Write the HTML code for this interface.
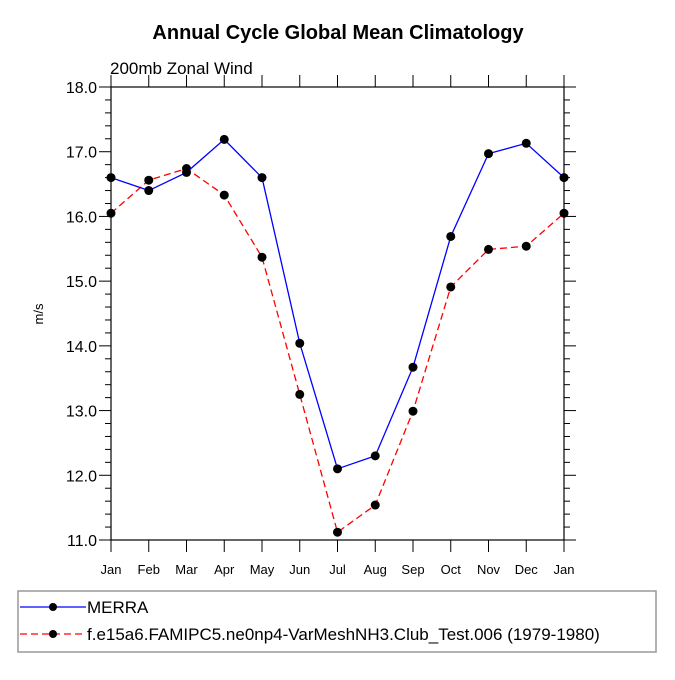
<!DOCTYPE html>
<html><head><meta charset="utf-8"><style>
body{margin:0;background:#fff}
svg{font-family:"Liberation Sans",sans-serif}
</style></head><body>
<svg width="675" height="675" viewBox="0 0 675 675">
<text x="338" y="39" text-anchor="middle" font-size="20" font-weight="bold">Annual Cycle Global Mean Climatology</text>
<text x="110" y="74" font-size="17">200mb Zonal Wind</text>
<text transform="translate(43,314) rotate(-90)" text-anchor="middle" font-size="13">m/s</text>
<g id="axes"></g>
<g id="series"></g>
<rect x="18" y="591" width="638" height="61" fill="none" stroke="#999" stroke-width="1.5"/>
<g>
<line x1="20" y1="607" x2="86" y2="607" stroke="#00f" stroke-width="1.2"/>
<circle cx="53" cy="607" r="4" fill="#000"/>
<text x="87" y="613" font-size="17">MERRA</text></g>
<g>
<line x1="20" y1="634" x2="86" y2="634" stroke="#f00" stroke-width="1.2" stroke-dasharray="7,4"/>
<circle cx="53" cy="634" r="4" fill="#000"/>
<text x="87" y="640" font-size="17">f.e15a6.FAMIPC5.ne0np4-VarMeshNH3.Club_Test.006 (1979-1980)</text></g>
</svg>
<script>
const months=["Jan","Feb","Mar","Apr","May","Jun","Jul","Aug","Sep","Oct","Nov","Dec","Jan"];
const merra=[16.6,16.4,16.68,17.19,16.6,14.04,12.1,12.3,13.67,15.69,16.97,17.13,16.6];
const model=[16.05,16.56,16.74,16.33,15.37,13.25,11.12,11.54,12.99,14.91,15.49,15.54,16.05];
const yTicks=["11.0","12.0","13.0","14.0","15.0","16.0","17.0","18.0"];
const X0=111,X1=564,Y0=540,Y1=87,YMIN=11,YMAX=18;
const xs=i=>X0+(X1-X0)*i/(months.length-1);
const ys=v=>Y0-(v-YMIN)/(YMAX-YMIN)*(Y0-Y1);
const NS="http://www.w3.org/2000/svg";
function mk(t,a,p){const e=document.createElementNS(NS,t);for(const k in a)e.setAttribute(k,a[k]);p.appendChild(e);return e;}
const ax=document.getElementById('axes');
const fr=mk('rect',{x:X0,y:Y1,width:X1-X0,height:Y0-Y1,fill:'none',stroke:'#000','stroke-width':1.2},ax);


for(let v=YMIN;v<=YMAX+1e-6;v+=0.2){
  const y=ys(v);const maj=Math.abs(v-Math.round(v))<1e-6;const L=maj?12:6;
  mk('line',{x1:X0-L,y1:y,x2:X0,y2:y,stroke:'#000','stroke-width':1},ax);
  mk('line',{x1:X1,y1:y,x2:X1+L,y2:y,stroke:'#000','stroke-width':1},ax);
}
yTicks.forEach(s=>{const t=mk('text',{x:X0-14,y:ys(parseFloat(s))+6,'text-anchor':'end','font-size':16},ax);t.textContent=s;

});
months.forEach((m,i)=>{const x=xs(i);
  mk('line',{x1:x,y1:Y0,x2:x,y2:Y0+12,stroke:'#000','stroke-width':1},ax);
  mk('line',{x1:x,y1:Y1,x2:x,y2:Y1-12,stroke:'#000','stroke-width':1},ax);
  const t=mk('text',{x:x,y:Y0+34,'text-anchor':'middle','font-size':13},ax);t.textContent=m;
  
  });
const se=document.getElementById('series');
function draw(vals,col,dash,name){
  const p=mk('polyline',{points:vals.map((v,i)=>xs(i)+','+ys(v)).join(' '),fill:'none',stroke:col,'stroke-width':1.3,'stroke-dasharray':dash},se);
  
  
  vals.forEach((v,i)=>{const c=mk('circle',{cx:xs(i),cy:ys(v),r:4.5,fill:'#000'},se);
    
    });
}
draw(model,'#f00','7,4','model');
draw(merra,'#00f','none','merra');
</script>
</body></html>
